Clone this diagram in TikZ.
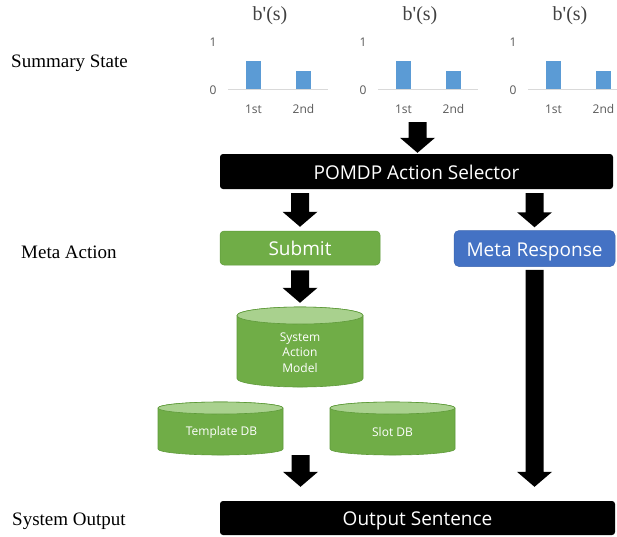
\documentclass[tikz,border=0pt]{standalone}
\usepackage{fontspec}
\setmainfont{Liberation Serif}[Ligatures=TeXOff]
\newfontfamily\uifont{Open Sans}
\usetikzlibrary{calc}
\definecolor{ogreen}{HTML}{70AD47}
\definecolor{ogreenlt}{HTML}{A9D18E}
\definecolor{ogreenln}{HTML}{5E9A3A}
\definecolor{oblue}{HTML}{4472C4}
\definecolor{obrdr}{HTML}{3A64B0}
\definecolor{obar}{HTML}{5B9BD5}
\definecolor{oaxis}{HTML}{D9D9D9}
\definecolor{otick}{HTML}{595959}
\definecolor{otitle}{HTML}{404040}
\newcommand\drawcyl[5]{%
  \filldraw[cylbody] ({#1-#4},{#2+#5}) -- ({#1-#4},{#3-#5})
    arc[start angle=180,end angle=360,x radius=#4pt,y radius=#5pt]
    -- ({#1+#4},{#2+#5})
    arc[start angle=0,end angle=180,x radius=#4pt,y radius=#5pt] -- cycle;
  \filldraw[cyltop] (#1,{#2+#5}) ellipse[x radius=#4pt,y radius=#5pt];}
\tikzset{
  lbl/.style={inner sep=0pt,font=\fontsize{19}{22}\selectfont,anchor=base west},
  btitle/.style={inner sep=0pt,text=otitle,font=\fontsize{20}{22}\selectfont},
  tick/.style={inner sep=0pt,text=otick,font=\uifont\fontsize{12}{14}\selectfont},
  boxtext/.style={text=white,inner sep=0pt,text height=15.6pt,text depth=0pt,
    font=\uifont\fontsize{19}{22}\selectfont},
  blackbox/.style={boxtext,fill=black,rounded corners=3pt},
  greenbox/.style={boxtext,fill=ogreen,draw=ogreenln,line width=0.5pt,rounded corners=4pt},
  bluebox/.style={boxtext,fill=oblue,draw=obrdr,line width=0.5pt,rounded corners=5pt},
  cylbody/.style={fill=ogreen,draw=ogreenln,line width=0.6pt},
  cyltop/.style={fill=ogreenlt,draw=ogreenln,line width=0.6pt},
  cyltxt/.style={inner sep=0pt,text=white,align=center,
    font=\uifont\fontsize{12}{15.5}\selectfont},
  cylbox/.style={inner sep=0pt},
  blockarrow/.style={to path={let \p1=(\tikztostart), \p2=(\tikztotarget) in
    ({\x1-9pt},\y1) -- ({\x1+9pt},\y1) -- ({\x1+9pt},{\y2+15pt})
    -- ({\x1+17.5pt},{\y2+15pt}) -- (\x1,\y2) -- ({\x1-17.5pt},{\y2+15pt})
    -- ({\x1-9pt},{\y2+15pt}) -- cycle}},
}
\begin{document}
\begin{tikzpicture}[x=1pt,y=-1pt]
\useasboundingbox (0,0) rectangle (617,536);

% left labels
\node[lbl] (sumstate) at (11,67) {Summary State};
\node[lbl] (metaact) at (21,258) {Meta Action};
\node[lbl] (sysout) at (12,525) {System Output};

% belief charts
\foreach \k in {0,1,2}{
  \pgfmathsetmacro\dx{150*\k}
  \node[btitle] (bs\k) at ({270+\dx},16) {b'(s)};
  \node[tick] (one\k) at ({213+\dx},42) {1};
  \node[tick] (zero\k) at ({213+\dx},90) {0};
  \draw[oaxis,line width=0.8pt] ({228+\dx},89) -- ({328+\dx},89);
  \fill[obar] ({246+\dx},61) rectangle ({261+\dx},88.6);
  \fill[obar] ({296+\dx},71) rectangle ({311+\dx},88.6);
  \node[tick] (first\k) at ({253.5+\dx},109) {1st};
  \node[tick] (second\k) at ({303.5+\dx},109) {2nd};
}
\coordinate (ss) at (417.5,122);

% boxes
\node[blackbox,minimum width=393pt,minimum height=35pt] (pomdp) at (416.5,171.5) {POMDP Action Selector};
\node[greenbox,minimum width=160pt,minimum height=34pt] (submit) at (300,248) {Submit};
\node[bluebox,minimum width=161pt,minimum height=36pt] (meta) at (534.5,248.5) {Meta Response};
\node[blackbox,minimum width=395pt,minimum height=34pt] (output) at (417.5,518) {Output Sentence};

% cylinders
\drawcyl{300}{307}{387}{63}{8.5}
\node[cylbox,minimum width=126pt,minimum height=80pt] (sam) at (300,347) {};
\node[cyltxt] (samtxt) at (300,352.5) {System\\Action\\Model};
\drawcyl{220.5}{402}{455}{62.5}{6}
\node[cylbox,minimum width=125pt,minimum height=53pt] (tdb) at (220.5,428.5) {};
\node[cyltxt] (tdbtxt) at (221.5,432) {Template DB};
\drawcyl{392.5}{402}{455}{62.5}{6}
\node[cylbox,minimum width=125pt,minimum height=53pt] (sdb) at (392.5,428.5) {};
\node[cyltxt] (sdbtxt) at (392.5,432) {Slot DB};
\coordinate (dbs) at (300.5,455);

% block arrows
\fill (ss) to[blockarrow] ($(pomdp.north -| ss)+(0,-1)$);
\fill ($(pomdp.south -| submit)+(0,4)$) to[blockarrow] ($(submit.north)+(0,-4)$);
\fill ($(pomdp.south -| meta)+(0,4)$) to[blockarrow] ($(meta.north)+(0,-3)$);
\fill ($(submit.south)+(0,5)$) to[blockarrow] ($(sam.north)+(0,-4)$);
\fill ($(meta.south)+(0,3)$) to[blockarrow] ($(output.north -| meta)+(0,-14)$);
\fill (dbs) to[blockarrow] ($(output.north -| dbs)+(0,-14)$);
\end{tikzpicture}
\end{document}
